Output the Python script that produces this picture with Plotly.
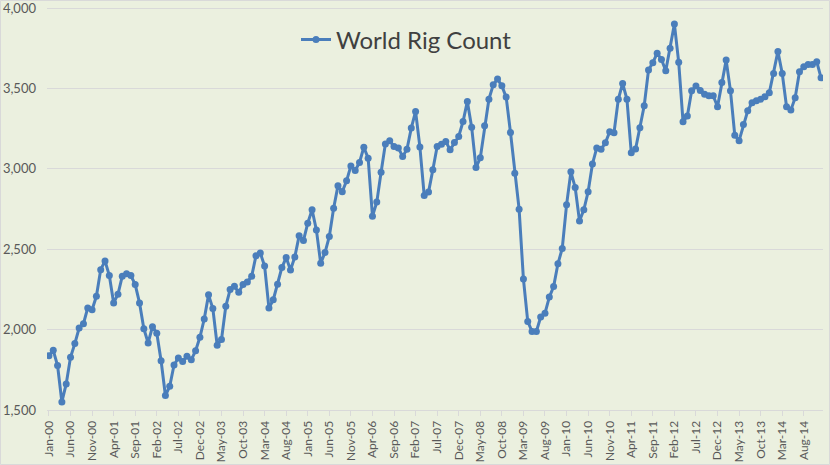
import pandas as pd
import plotly.graph_objects as go

# Monthly World Rig Count, Jan-2000 .. Dec-2014
rig_count = [
    1838, 1871, 1776, 1550, 1662, 1828, 1913, 2010, 2037, 2135, 2124, 2207,
    2373, 2427, 2336, 2166, 2220, 2332, 2348, 2336, 2280, 2166, 2006, 1917,
    2018, 1978, 1806, 1590, 1648, 1780, 1824, 1802, 1835, 1812, 1869, 1952,
    2066, 2216, 2131, 1903, 1938, 2145, 2249, 2269, 2232, 2280, 2296, 2332,
    2460, 2476, 2395, 2134, 2185, 2282, 2386, 2448, 2371, 2452, 2583, 2554,
    2662, 2745, 2620, 2413, 2479, 2579, 2755, 2894, 2857, 2925, 3018, 2989,
    3039, 3134, 3066, 2705, 2793, 2979, 3155, 3174, 3139, 3129, 3077, 3122,
    3253, 3357, 3135, 2834, 2855, 2994, 3139, 3153, 3170, 3118, 3164, 3201,
    3294, 3419, 3259, 3008, 3068, 3267, 3433, 3522, 3558, 3516, 3446, 3226,
    2973, 2749, 2314, 2051, 1988, 1988, 2078, 2102, 2202, 2268, 2409, 2505,
    2776, 2981, 2884, 2675, 2745, 2857, 3030, 3130, 3121, 3162, 3230, 3224,
    3432, 3531, 3432, 3100, 3123, 3255, 3392, 3614, 3660, 3718, 3680, 3610,
    3749, 3900, 3662, 3293, 3328, 3485, 3515, 3487, 3463, 3454, 3454, 3386,
    3537, 3676, 3485, 3208, 3175, 3276, 3361, 3411, 3423, 3432, 3448, 3473,
    3593, 3730, 3593, 3386, 3365, 3442, 3604, 3635, 3649, 3649, 3666, 3566,
]

months = [d.strftime("%b-%y") for d in pd.date_range("2000-01-01", periods=len(rig_count), freq="MS")]

x_tick_labels = [
    "Jan-00", "Jun-00", "Nov-00", "Apr-01", "Sep-01", "Feb-02", "Jul-02", "Dec-02",
    "May-03", "Oct-03", "Mar-04", "Aug-04", "Jan-05", "Jun-05", "Nov-05", "Apr-06",
    "Sep-06", "Feb-07", "Jul-07", "Dec-07", "May-08", "Oct-08", "Mar-09", "Aug-09",
    "Jan-10", "Jun-10", "Nov-10", "Apr-11", "Sep-11", "Feb-12", "Jul-12", "Dec-12",
    "May-13", "Oct-13", "Mar-14", "Aug-14",
]
y_tick_values = [1500, 2000, 2500, 3000, 3500, 4000]

series_name = "World Rig Count"
line_color = "#4A7EBB"
bg = "#EBF0DF"
grid = "#D9D9D9"
font_family = "Lato, 'Liberation Sans', sans-serif"

fig = go.Figure()
fig.add_trace(go.Scatter(
    x=months, y=rig_count, mode="lines+markers", name=series_name,
    line=dict(color=line_color, width=3),
    marker=dict(color=line_color, size=7, symbol="circle"),
))

W, H = 830, 465
ml, mr, mt, mb = 47, 7, 6, 55
pw, ph = W - ml - mr, H - mt - mb

fig.update_layout(
    width=W, height=H,
    margin=dict(l=ml, r=mr, t=mt, b=mb, pad=0, autoexpand=False),
    paper_bgcolor=bg, plot_bgcolor=bg,
    font=dict(family=font_family, color="#595959"),
    showlegend=True,
    legend=dict(
        orientation="h", x=(296 - ml) / pw, xanchor="left",
        y=(H - mb - 40) / ph, yanchor="middle",
        bgcolor="rgba(0,0,0,0)",
        font=dict(size=24, color="#404040", family=font_family),
    ),
    xaxis=dict(
        type="category", automargin=False,
        range=[-0.45, len(rig_count) - 0.55],
        tickmode="array", tickvals=x_tick_labels, ticktext=x_tick_labels,
        tickangle=-90, tickfont=dict(size=12, color="#595959"),
        showgrid=False, zeroline=False,
        showline=True, linecolor=grid, linewidth=1,
        ticks="outside", ticklen=5, tickcolor=grid,
        ticklabeloverflow="allow",
    ),
    yaxis=dict(
        automargin=False,
        range=[1500, 4012.5], tickmode="array", tickvals=y_tick_values,
        tickformat=",d", tickfont=dict(size=13, color="#595959"),
        showgrid=True, gridcolor=grid, gridwidth=1,
        zeroline=False, showline=False, ticks="", ticklabelstandoff=10,
        ticklabeloverflow="allow",
    ),
    shapes=[dict(
        type="rect", xref="paper", yref="paper",
        x0=(0.5 - ml) / pw, x1=(W - 0.5 - ml) / pw,
        y0=-(H - 0.5 - (H - mb)) / ph, y1=(H - mb - 0.5) / ph,
        line=dict(color=grid, width=1), fillcolor="rgba(0,0,0,0)", layer="below",
    )],
)

fig.write_html(
    "out.html",
    config={"displayModeBar": False},
    post_script="document.body.style.margin='0px';document.body.style.overflow='hidden';",
)
